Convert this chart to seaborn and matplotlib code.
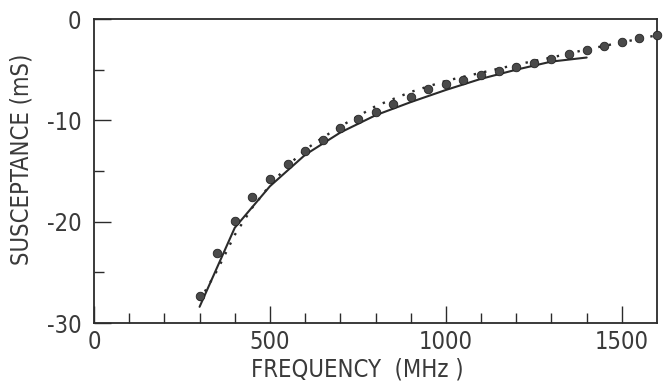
import numpy as np
import pandas as pd
import seaborn as sns
import matplotlib.pyplot as plt

# =====================================================
# DATA
# =====================================================

meas_freq = [300, 350, 400, 450, 500, 550, 600, 650, 700, 750,
             800, 850, 900, 950, 1000, 1050, 1100, 1150, 1200, 1250,
             1300, 1350, 1400, 1450, 1500, 1550, 1600]
meas_b = [-27.3, -23.1, -19.9, -17.6, -15.8, -14.3, -13.0, -11.9, -10.8, -9.9,
          -9.15, -8.4, -7.65, -6.9, -6.4, -6.0, -5.55, -5.1, -4.7, -4.3,
          -3.9, -3.5, -3.05, -2.65, -2.25, -1.9, -1.55]

solid_freq = [300, 400, 500, 600, 700, 800, 900, 1000, 1100, 1200, 1300, 1400]
solid_b = [-28.4, -20.6, -16.5, -13.4, -11.2, -9.5, -8.2, -7.0, -5.9, -5.0, -4.2, -3.8]

dotted_freq = [300, 350, 400, 450, 500, 550, 600, 650, 700, 800,
               900, 1000, 1100, 1200, 1300, 1400, 1500, 1600]
dotted_b = [-27.8, -24.8, -21.3, -18.6, -16.4, -14.5, -12.9, -11.7, -10.6, -8.6,
            -7.2, -6.1, -5.3, -4.5, -3.8, -3.0, -2.3, -1.6]

# =====================================================
# STYLE
# =====================================================

sns.set_style("ticks")
plt.rcParams["font.family"] = ["DejaVu Sans"]
plt.rcParams["font.stretch"] = "condensed"
plt.rcParams["axes.unicode_minus"] = False

ink = "#2b2b2b"
txt = "#3a3a3a"

fig = plt.figure(figsize=(6.63, 3.85), dpi=100)
ax = fig.add_axes([0.1418, 0.161, 0.8492, 0.7896])

# =====================================================
# CURVES
# =====================================================

sns.lineplot(
    x=solid_freq, y=solid_b,
    color=ink, linewidth=1.5, ax=ax
)

sns.lineplot(
    x=dotted_freq, y=dotted_b,
    color=ink, linewidth=1.7, linestyle=(0, (1, 3.5)), ax=ax
)

sns.scatterplot(
    x=meas_freq, y=meas_b,
    color="#4a4a4a", edgecolor="#222222", linewidth=0.6,
    s=38, ax=ax, zorder=3, clip_on=False
)

# =====================================================
# AXES
# =====================================================

ax.set_xlim(0, 1600)
ax.set_ylim(-30, 0)

ax.set_xticks([0, 500, 1000, 1500])
ax.set_xticks(np.arange(100, 1600, 100), minor=True)
ax.set_yticks([-30, -20, -10, 0])
ax.set_yticks([-25, -15, -5], minor=True)

ax.tick_params(axis="both", which="both", bottom=True, left=True,
               top=False, right=False)
ax.tick_params(axis="both", which="major", direction="in", length=12,
               width=1.0, color=ink, labelsize=17, labelcolor=txt)
ax.tick_params(axis="both", which="minor", direction="in", length=7,
               width=1.0, color=ink)
ax.tick_params(axis="x", which="major", pad=5)
ax.tick_params(axis="y", which="major", pad=9)

for side in ax.spines.values():
    side.set_visible(True)
    side.set_color(ink)
    side.set_linewidth(1.3)

ax.set_xlabel("FREQUENCY  (MHz )", fontsize=17, color=txt)
ax.set_ylabel("SUSCEPTANCE (mS)", fontsize=17, color=txt)
ax.xaxis.set_label_coords(0.467, -0.115)
ax.yaxis.set_label_coords(-0.108, 0.537)

ax.grid(False)

fig.savefig("out.png", dpi=100)
